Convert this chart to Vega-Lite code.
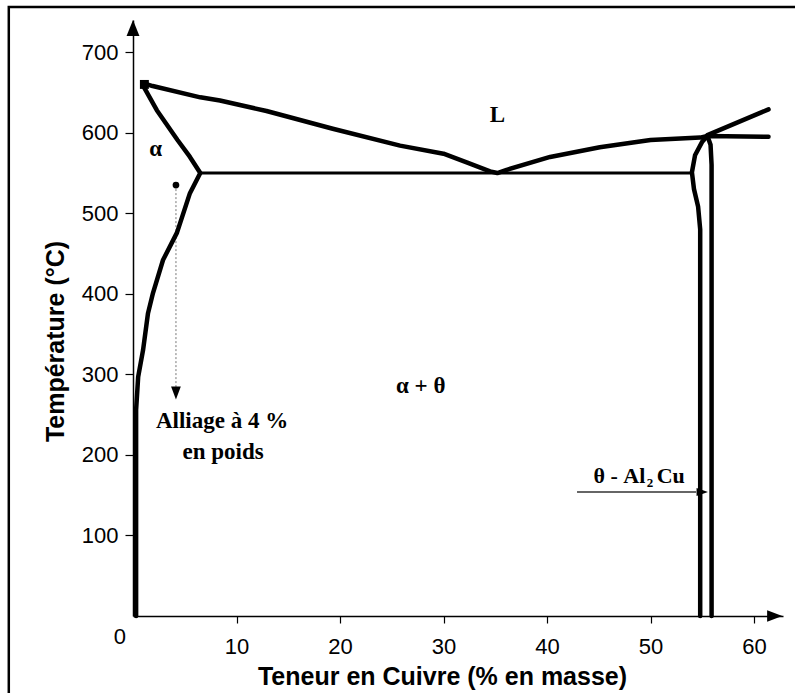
{
  "$schema": "https://vega.github.io/schema/vega-lite/v6.json",
  "width": 650,
  "height": 596,
  "autosize": {"type": "none"},
  "padding": {"left": 133, "top": 20, "right": 12, "bottom": 77},
  "background": "white",
  "config": {"view": {"stroke": null}},
  "datasets": {
    "curves": [
      {"c": "liq", "i": 0, "x": 0.9, "T": 662},
      {"c": "liq", "i": 1, "x": 1.9, "T": 658},
      {"c": "liq", "i": 2, "x": 6.5, "T": 644},
      {"c": "liq", "i": 3, "x": 8.4, "T": 640},
      {"c": "liq", "i": 4, "x": 12.9, "T": 627},
      {"c": "liq", "i": 5, "x": 19.3, "T": 605},
      {"c": "liq", "i": 6, "x": 25.8, "T": 584},
      {"c": "liq", "i": 7, "x": 30.0, "T": 574},
      {"c": "liq", "i": 8, "x": 32.3, "T": 563},
      {"c": "liq", "i": 9, "x": 34.5, "T": 552},
      {"c": "liq", "i": 10, "x": 35.2, "T": 550},
      {"c": "liq", "i": 11, "x": 36.1, "T": 554},
      {"c": "liq", "i": 12, "x": 40.3, "T": 570},
      {"c": "liq", "i": 13, "x": 45.1, "T": 582},
      {"c": "liq", "i": 14, "x": 48.3, "T": 588},
      {"c": "liq", "i": 15, "x": 50.0, "T": 591},
      {"c": "liq", "i": 16, "x": 54.8, "T": 594},
      {"c": "liq", "i": 17, "x": 55.5, "T": 596},
      {"c": "liq", "i": 18, "x": 61.4, "T": 595},
      {"c": "br", "i": 0, "x": 55.5, "T": 597},
      {"c": "br", "i": 1, "x": 61.4, "T": 629},
      {"c": "sol", "i": 0, "x": 0.9, "T": 662},
      {"c": "sol", "i": 1, "x": 1.0, "T": 658},
      {"c": "sol", "i": 2, "x": 2.3, "T": 628},
      {"c": "sol", "i": 3, "x": 4.3, "T": 591},
      {"c": "sol", "i": 4, "x": 5.5, "T": 570},
      {"c": "sol", "i": 5, "x": 6.5, "T": 550},
      {"c": "sol", "i": 6, "x": 5.5, "T": 525},
      {"c": "sol", "i": 7, "x": 4.25, "T": 476},
      {"c": "sol", "i": 8, "x": 2.9, "T": 442},
      {"c": "sol", "i": 9, "x": 1.93, "T": 401},
      {"c": "sol", "i": 10, "x": 1.45, "T": 376},
      {"c": "sol", "i": 11, "x": 0.97, "T": 330},
      {"c": "sol", "i": 12, "x": 0.5, "T": 297},
      {"c": "sol", "i": 13, "x": 0.3, "T": 256},
      {"c": "sol", "i": 14, "x": 0.3, "T": 0},
      {"c": "thl", "i": 0, "x": 55.5, "T": 596},
      {"c": "thl", "i": 1, "x": 55.0, "T": 589},
      {"c": "thl", "i": 2, "x": 54.3, "T": 572},
      {"c": "thl", "i": 3, "x": 54.0, "T": 551},
      {"c": "thl", "i": 4, "x": 54.2, "T": 530},
      {"c": "thl", "i": 5, "x": 54.6, "T": 508},
      {"c": "thl", "i": 6, "x": 54.8, "T": 480},
      {"c": "thl", "i": 7, "x": 54.8, "T": 0},
      {"c": "thr", "i": 0, "x": 55.5, "T": 596},
      {"c": "thr", "i": 1, "x": 55.8, "T": 585},
      {"c": "thr", "i": 2, "x": 55.9, "T": 560},
      {"c": "thr", "i": 3, "x": 55.9, "T": 0}
    ],
    "iso": [
      {"x": 6.5, "T": 550},
      {"x": 54.0, "T": 550}
    ],
    "dotted": [
      {"x": 4.15, "T": 535},
      {"x": 4.15, "T": 282}
    ],
    "thetaArrow": [
      {"x": 42.9, "T": 154},
      {"x": 54.4, "T": 154}
    ],
    "headDown": [{"x": 4.15, "T": 277}],
    "headRightSmall": [{"x": 55.0, "T": 154}],
    "headUp": [{"x": 0, "T": 730}],
    "headRightAxis": [{"x": 62.0, "T": 0}],
    "dots": [
      {"x": 4.15, "T": 535}
    ],
    "squares": [
      {"x": 1.1, "T": 660}
    ],
    "serifLabels": [
      {"t": "L", "x": 35.2, "T": 622},
      {"t": "α", "x": 2.2, "T": 580},
      {"t": "α + θ", "x": 27.8, "T": 286},
      {"t": "Alliage à 4 %", "x": 8.6, "T": 242},
      {"t": "en poids", "x": 8.7, "T": 204}
    ],
    "thetaLeft": [{"t": "θ - Al", "x": 49.5, "T": 165}],
    "thetaSub": [{"t": "2", "x": 49.95, "T": 160}],
    "thetaCu": [{"t": "Cu", "x": 50.6, "T": 165}],
    "zero": [{"t": "0", "x": -1.26, "T": -26}],
    "frame": [{"x": -12, "x2": 64.5, "T": 756, "T2": -105}]
  },
  "encoding": {
    "x": {
      "field": "x", "type": "quantitative",
      "scale": {"domain": [0, 62.8], "nice": false, "zero": false},
      "axis": {
        "values": [10, 20, 30, 40, 50, 60],
        "grid": false,
        "domainColor": "black", "domainWidth": 1.5,
        "tickColor": "black", "tickWidth": 1.2, "tickSize": 7,
        "labelFont": "Liberation Sans", "labelFontSize": 22, "labelColor": "black", "labelPadding": 13,
        "title": "Teneur en Cuivre (% en masse)",
        "titleFont": "Liberation Sans", "titleFontSize": 25, "titleFontWeight": "bold", "titleColor": "black",
        "titleX": 309, "titleY": 68, "titleBaseline": "alphabetic", "titleAlign": "center"
      }
    },
    "y": {
      "field": "T", "type": "quantitative",
      "scale": {"domain": [0, 740], "nice": false, "zero": false},
      "axis": {
        "values": [100, 200, 300, 400, 500, 600, 700],
        "grid": false,
        "domainColor": "black", "domainWidth": 1.5,
        "tickColor": "black", "tickWidth": 1.2, "tickSize": 8,
        "labelFont": "Liberation Sans", "labelFontSize": 22, "labelColor": "black", "labelPadding": 7,
        "title": "Température (°C)",
        "titleFont": "Liberation Sans", "titleFontSize": 25, "titleFontWeight": "bold", "titleColor": "black",
        "titleX": -70, "titleY": 321, "titleBaseline": "alphabetic", "titleAlign": "center", "titleAngle": -90
      }
    }
  },
  "layer": [
    {
      "data": {"name": "frame"},
      "mark": {"type": "rect", "fill": null, "stroke": "black", "strokeWidth": 2.5},
      "encoding": {"x2": {"field": "x2"}, "y2": {"field": "T2"}}
    },
    {
      "data": {"name": "dotted"},
      "mark": {"type": "line", "color": "#777777", "strokeWidth": 1, "strokeDash": [2, 2]},
      "encoding": {}
    },
    {
      "data": {"name": "thetaArrow"},
      "mark": {"type": "line", "color": "#666666", "strokeWidth": 2},
      "encoding": {}
    },
    {
      "data": {"name": "iso"},
      "mark": {"type": "line", "color": "black", "strokeWidth": 3},
      "encoding": {}
    },
    {
      "data": {"name": "curves"},
      "mark": {"type": "line", "color": "black", "strokeWidth": 4.5, "strokeJoin": "round", "strokeCap": "round"},
      "encoding": {
        "detail": {"field": "c"},
        "order": {"field": "i", "type": "quantitative"}
      }
    },
    {
      "data": {"name": "squares"},
      "mark": {"type": "point", "shape": "square", "filled": true, "color": "black", "size": 80, "opacity": 1},
      "encoding": {}
    },
    {
      "data": {"name": "dots"},
      "mark": {"type": "point", "shape": "circle", "filled": true, "color": "black", "size": 45, "opacity": 1},
      "encoding": {}
    },
    {
      "data": {"name": "headDown"},
      "mark": {"type": "point", "shape": "M0,1L0.75,-1L-0.75,-1Z", "filled": true, "color": "black", "size": 170, "opacity": 1},
      "encoding": {}
    },
    {
      "data": {"name": "headRightSmall"},
      "mark": {"type": "point", "shape": "M1,0L-1,0.7L-1,-0.7Z", "filled": true, "color": "black", "size": 130, "opacity": 1},
      "encoding": {}
    },
    {
      "data": {"name": "headUp"},
      "mark": {"type": "point", "shape": "M0,-1L0.8,1L-0.8,1Z", "filled": true, "color": "black", "size": 260, "opacity": 1},
      "encoding": {}
    },
    {
      "data": {"name": "headRightAxis"},
      "mark": {"type": "point", "shape": "M1,0L-1,0.75L-1,-0.75Z", "filled": true, "color": "black", "size": 230, "opacity": 1},
      "encoding": {}
    },
    {
      "data": {"name": "serifLabels"},
      "mark": {"type": "text", "font": "Liberation Serif", "fontWeight": "bold", "fontSize": 23, "color": "black", "align": "center", "baseline": "middle"},
      "encoding": {"text": {"field": "t"}}
    },
    {
      "data": {"name": "thetaLeft"},
      "mark": {"type": "text", "font": "Liberation Serif", "fontWeight": "bold", "fontSize": 22, "color": "black", "align": "right", "baseline": "alphabetic"},
      "encoding": {"text": {"field": "t"}}
    },
    {
      "data": {"name": "thetaSub"},
      "mark": {"type": "text", "font": "Liberation Serif", "fontWeight": "bold", "fontSize": 13, "color": "black", "align": "center", "baseline": "alphabetic"},
      "encoding": {"text": {"field": "t"}}
    },
    {
      "data": {"name": "thetaCu"},
      "mark": {"type": "text", "font": "Liberation Serif", "fontWeight": "bold", "fontSize": 22, "color": "black", "align": "left", "baseline": "alphabetic"},
      "encoding": {"text": {"field": "t"}}
    },
    {
      "data": {"name": "zero"},
      "mark": {"type": "text", "font": "Liberation Sans", "fontSize": 22, "color": "black", "align": "center", "baseline": "middle"},
      "encoding": {"text": {"field": "t"}}
    }
  ]
}
